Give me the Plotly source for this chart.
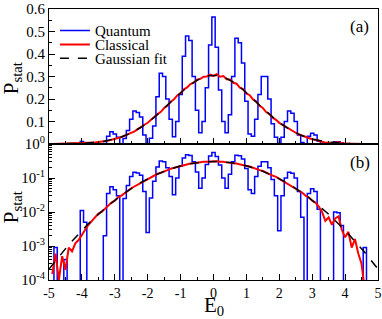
import plotly.graph_objects as go
import math

# ---------------- data ----------------
# Quantum histogram: bin centres (width 0.1) and heights
q_centers = [round(-5.0 + 0.1 * i, 1) for i in range(101)]
q_values = [
    0, 0, 0.0009, 0, 0, 0.0004, 0, 0, 0, 0,              # -5.0 .. -4.1
    0.011, 0.005, 0, 0, 0, 0, 0, 0.002, 0.035, 0.055,    # -4.0 .. -3.1
    0.045, 0.03, 0, 0.025, 0.06, 0.11, 0.147, 0.14, 0.12, 0.04,   # -3.0 .. -2.1
    0.0025, 0.026, 0.08, 0.21, 0.315, 0.30, 0.20, 0.11, 0.032, 0.10,  # -2.0 .. -1.1
    0.22, 0.39, 0.48, 0.46, 0.30, 0.15, 0.05, 0.10, 0.25, 0.44,   # -1.0 .. -0.1
    0.565,                                               # 0.0
    0.43, 0.24, 0.10, 0.05, 0.13, 0.30, 0.47, 0.45, 0.36, 0.19,   # 0.1 .. 1.0
    0.045, 0.035, 0.11, 0.22, 0.30, 0.30, 0.20, 0.09, 0.03, 0.0028,  # 1.1 .. 2.0
    0.03, 0.10, 0.147, 0.137, 0.10, 0.04, 0.007, 0, 0.035, 0.048,   # 2.1 .. 3.0
    0.04, 0.012, 0, 0, 0, 0, 0.01, 0.0095, 0.004, 0,     # 3.1 .. 4.0
    0, 0, 0, 0, 0, 0.0009, 0, 0, 0, 0,                   # 4.1 .. 5.0
]

# Classical distribution
c_x = [round(-4.9 + 0.1 * i, 1) for i in range(96)]
c_values = [
    0.00015, 0.0006, 0.0001, 0.0005, 0.0002, 0.0009, 0.0007, 0.0012, 0.0015, 0.0022,  # -4.9 .. -4.0
    0.0030, 0.0042, 0.0055, 0.0068, 0.0090, 0.0100, 0.0125, 0.0150, 0.0190, 0.0215,    # -3.9 .. -3.0
    0.0270, 0.0305, 0.0370, 0.0420, 0.0500, 0.0565, 0.0660, 0.0740, 0.0855, 0.0945,    # -2.9 .. -2.0
    0.1080, 0.1175, 0.1330, 0.1430, 0.1600, 0.1705, 0.1880, 0.1990, 0.2160, 0.2265,    # -1.9 .. -1.0
    0.2430, 0.2515, 0.2665, 0.2730, 0.2860, 0.2895, 0.2990, 0.3000, 0.3080, 0.3030,    # -0.9 .. 0.0
    0.3100, 0.2990, 0.3020, 0.2880, 0.2870, 0.2720, 0.2680, 0.2500, 0.2440, 0.2250,    # 0.1 .. 1.0
    0.2170, 0.1980, 0.1890, 0.1700, 0.1600, 0.1420, 0.1330, 0.1170, 0.1075, 0.0940,    # 1.1 .. 2.0
    0.0850, 0.0735, 0.0660, 0.0560, 0.0500, 0.0420, 0.0370, 0.0300, 0.0265, 0.0215,    # 2.1 .. 3.0
    0.0190, 0.0145, 0.0100, 0.0055, 0.0070, 0.0042, 0.0065, 0.0075, 0.0030, 0.0018,    # 3.1 .. 4.0
    0.0026, 0.0009, 0.0016, 0.0006, 0.0003, 0.00005,                                   # 4.1 .. 4.6
]

# Gaussian fit parameters
fit_amplitude = 0.305
fit_sigma = 1.31
fit_x = [round(-5.0 + 0.05 * i, 2) for i in range(201)]

x_ticks = [-5, -4, -3, -2, -1, 0, 1, 2, 3, 4, 5]
x_ticktext = ["-5", "-4", "-3", "-2", "-1", "0", "1", "2", "3", "4", "5"]
lin_ticks = [0.1, 0.2, 0.3, 0.4, 0.5, 0.6]
lin_ticktext = ["0.1", "0.2", "0.3", "0.4", "0.5", "0.6"]
log_ticks = [1e-4, 1e-3, 1e-2, 1e-1, 1]
log_ticktext = ["10<sup>-4</sup>", "10<sup>-3</sup>", "10<sup>-2</sup>", "10<sup>-1</sup>", "10<sup>0</sup>"]

# ---------------- derived ----------------
fit_values = [fit_amplitude * math.exp(-x * x / (2 * fit_sigma ** 2)) for x in fit_x]
floor = 1e-9
q_log = [v if v > 0 else floor for v in q_values]
c_log = [v if v > 0 else floor for v in c_values]

FONT = "Liberation Serif"
BLUE = "#0000ff"
RED = "#ff0000"

fig = go.Figure()

# top panel (linear)
fig.add_trace(go.Scatter(x=q_centers, y=q_values, mode="lines", line=dict(color=BLUE, width=1.5, shape="hvh"),
                         name="Quantum", xaxis="x", yaxis="y", legend="legend"))
fig.add_trace(go.Scatter(x=c_x, y=c_values, mode="lines", line=dict(color=RED, width=2),
                         name="Classical", xaxis="x", yaxis="y", legend="legend2"))
fig.add_trace(go.Scatter(x=fit_x, y=fit_values, mode="lines", line=dict(color="black", width=1.5, dash="dash"),
                         name="Gaussian fit", xaxis="x", yaxis="y", legend="legend3"))
# bottom panel (log)
fig.add_trace(go.Scatter(x=q_centers, y=q_log, mode="lines", line=dict(color=BLUE, width=1.5, shape="hvh"),
                         showlegend=False, xaxis="x2", yaxis="y2"))
fig.add_trace(go.Scatter(x=c_x, y=c_log, mode="lines", line=dict(color=RED, width=2),
                         showlegend=False, xaxis="x2", yaxis="y2"))
fig.add_trace(go.Scatter(x=fit_x, y=fit_values, mode="lines", line=dict(color="black", width=1.5, dash="dash"),
                         showlegend=False, xaxis="x2", yaxis="y2"))

split = 136 / 271
axis_common = dict(showline=True, linecolor="black", linewidth=1, mirror=True, ticks="inside",
                   tickcolor="black", showgrid=False, zeroline=False, automargin=False)


def leg(ypos):
    return dict(x=0.018, y=ypos, xanchor="left", yanchor="middle", bgcolor="rgba(0,0,0,0)",
                font=dict(family=FONT, size=15), itemwidth=30)


fig.update_layout(
    width=382, height=319,
    margin=dict(l=49, r=4, t=9, b=39, autoexpand=False),
    paper_bgcolor="white", plot_bgcolor="white",
    font=dict(family=FONT, color="black", size=15),
    showlegend=True,
    legend=leg(0.92), legend2=leg(0.868), legend3=leg(0.817),
    xaxis=dict(domain=[0, 1], anchor="y", range=[-5, 5], tickvals=x_ticks, showticklabels=False,
               ticklen=6, minor=dict(ticks="inside", ticklen=3, tickmode="linear", tick0=-5, dtick=0.5, tickcolor="black"),
               **axis_common),
    yaxis=dict(domain=[split, 1], anchor="x", range=[0, 0.6], tickvals=lin_ticks, ticktext=lin_ticktext,
               ticklen=6, minor=dict(ticks="inside", ticklen=3, tickmode="linear", tick0=0, dtick=0.05, tickcolor="black"),
               tickfont=dict(size=15), **axis_common),
    xaxis2=dict(domain=[0, 1], anchor="y2", range=[-5, 5], tickvals=x_ticks, ticktext=x_ticktext,
                ticklen=6, minor=dict(ticks="inside", ticklen=3, tickmode="linear", tick0=-5, dtick=0.5, tickcolor="black"),
                tickfont=dict(size=14), **axis_common),
    yaxis2=dict(domain=[0, split], anchor="x2", type="log", range=[-4, 0], tickvals=log_ticks, ticktext=log_ticktext,
                ticklen=6, minor=dict(ticks="inside", ticklen=3,
                                      tickvals=[m * 10 ** k for k in range(-4, 0) for m in range(2, 10)],
                                      tickcolor="black"),
                tickfont=dict(size=15), **axis_common),
    annotations=[
        dict(text="P<sub>stat</sub>", xref="paper", yref="paper", x=-0.112, y=0.745, textangle=-90,
             showarrow=False, font=dict(family=FONT, size=21), xanchor="center", yanchor="middle"),
        dict(text="P<sub>stat</sub>", xref="paper", yref="paper", x=-0.112, y=0.269, textangle=-90,
             showarrow=False, font=dict(family=FONT, size=21), xanchor="center", yanchor="middle"),
        dict(text="E<sub>0</sub>", xref="paper", yref="paper", x=0.5, y=-0.096,
             showarrow=False, font=dict(family=FONT, size=21), xanchor="center", yanchor="middle"),
        dict(text="(a)", xref="paper", yref="paper", x=0.945, y=0.934,
             showarrow=False, font=dict(family=FONT, size=17), xanchor="center", yanchor="middle"),
        dict(text="(b)", xref="paper", yref="paper", x=0.945, y=0.432,
             showarrow=False, font=dict(family=FONT, size=17), xanchor="center", yanchor="middle"),
    ],
)

fig.write_html("out.html", config={"displayModeBar": False},
               post_script="document.body.style.margin='0';document.body.style.padding='0';")
